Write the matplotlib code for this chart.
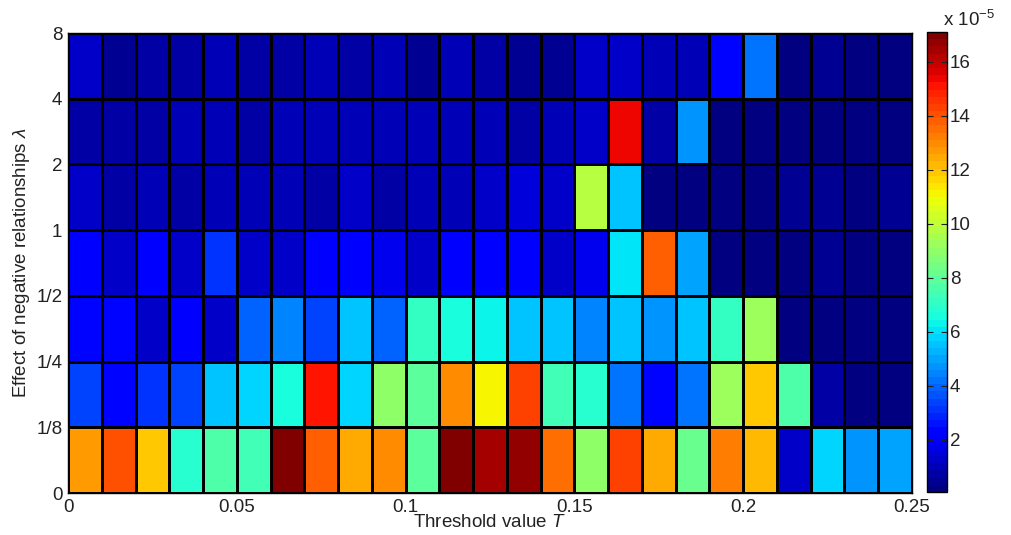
import numpy as np
import matplotlib
matplotlib.use('Agg')
import matplotlib.pyplot as plt

plt.rcParams['font.family'] = ['Liberation Sans', 'DejaVu Sans']
plt.rcParams['mathtext.fontset'] = 'custom'
plt.rcParams['mathtext.rm'] = 'Liberation Sans'
plt.rcParams['mathtext.it'] = 'Liberation Sans:italic'

# threshold T bins (columns) and lambda rows (bottom to top)
thresholds = np.round(np.arange(0, 0.2501, 0.01), 2)
lambda_labels = ['0', '1/8', '1/4', '1/2', '1', '2', '4', '8']

# values in units of 1e-5, one list per lambda row, bottom row first
row_0_18 = [12.6, 14.0, 12.0, 6.9, 7.6, 7.4, 16.9, 13.7, 12.5, 13.1, 7.8, 17.0, 16.5,
            16.7, 13.5, 8.9, 14.4, 12.5, 8.1, 13.3, 12.2, 1.4, 5.8, 4.7, 4.9]
row_18_14 = [3.3, 2.2, 3.0, 3.3, 5.6, 5.9, 6.5, 15.2, 5.9, 8.9, 7.8, 13.0, 11.0,
             14.2, 7.5, 6.9, 4.3, 2.4, 4.3, 9.3, 12.0, 7.6, 0.8, 0.3, 0.3]
row_14_12 = [2.2, 2.2, 1.4, 2.0, 1.2, 3.8, 4.5, 3.4, 5.5, 3.8, 7.2, 6.6, 6.3,
             5.6, 5.4, 4.5, 5.4, 4.6, 5.6, 7.2, 9.3, 0.3, 0.3, 0.3, 0.3]
row_12_1 = [2.1, 1.4, 2.0, 1.2, 3.2, 1.4, 1.4, 2.1, 2.1, 1.8, 1.4, 2.1, 2.0,
            2.1, 1.4, 1.7, 6.0, 13.9, 5.0, 0.3, 0.3, 0.3, 0.35, 0.3, 0.3]
row_1_2 = [1.2, 0.7, 1.0, 0.8, 1.0, 1.0, 1.0, 0.7, 1.3, 0.8, 1.1, 1.0, 1.3,
           1.5, 1.2, 9.7, 5.4, 0.3, 0.2, 0.3, 0.3, 0.35, 0.4, 0.3, 0.35]
row_2_4 = [0.8, 0.8, 0.8, 0.9, 1.0, 0.8, 1.0, 0.9, 1.0, 1.0, 1.0, 1.0, 1.1,
           0.7, 0.9, 1.2, 15.3, 0.8, 4.8, 0.15, 0.15, 0.3, 0.3, 0.3, 0.25]
row_4_8 = [1.2, 0.5, 0.7, 0.7, 0.9, 0.8, 0.8, 0.9, 0.8, 1.1, 0.5, 1.0, 0.8,
           0.6, 0.6, 1.2, 1.2, 0.9, 0.9, 2.3, 4.3, 0.3, 0.6, 0.2, 0.25]

Z = np.array([row_0_18, row_18_14, row_14_12, row_12_1, row_1_2, row_2_4, row_4_8])
ny = len(lambda_labels)

fig = plt.figure(figsize=(10.11, 5.35), dpi=100)
ax = fig.add_axes([68/1011, 1-493/535, (912-68)/1011, (493-33)/535])
cax = fig.add_axes([927/1011, 1-492/535, 20/1011, (492-32)/535])

cmap = plt.get_cmap('jet', 64)
mesh = ax.pcolormesh(thresholds, np.arange(ny), Z, cmap=cmap, vmin=0.07, vmax=17.1,
                     edgecolors='black', linewidth=0.85)

fs = 13.5
ax.set_xlim(0, 0.25)
ax.set_ylim(0, ny - 1)
ax.set_xticks([0, 0.05, 0.1, 0.15, 0.2, 0.25])
ax.set_xticklabels(['0', '0.05', '0.1', '0.15', '0.2', '0.25'])
ax.set_yticks(np.arange(ny))
ax.set_yticklabels(lambda_labels)
ax.tick_params(length=0, labelsize=fs, pad=4, colors='#222222')
ax.tick_params(axis='x', pad=4)
for s in ax.spines.values():
    s.set_linewidth(1.0)

ax.set_xlabel('Threshold value $\\it{T}$', fontsize=fs, labelpad=-1, color='#222222')
ax.set_ylabel('Effect of negative relationships $\\lambda$', fontsize=fs, labelpad=3,
              color='#222222')

cb = fig.colorbar(mesh, cax=cax)
cb.set_ticks([2, 4, 6, 8, 10, 12, 14, 16])
cb.ax.tick_params(direction='in', length=4, width=0.8, labelsize=fs, pad=2,
                  right=True, left=True, colors='#222222')
cb.outline.set_linewidth(1.0)
fig.text(943/1011, 1-20/535, 'x 10$^{-5}$', fontsize=fs, va='center', ha='left',
         color='#222222')

fig.savefig('out.png', dpi=100)
